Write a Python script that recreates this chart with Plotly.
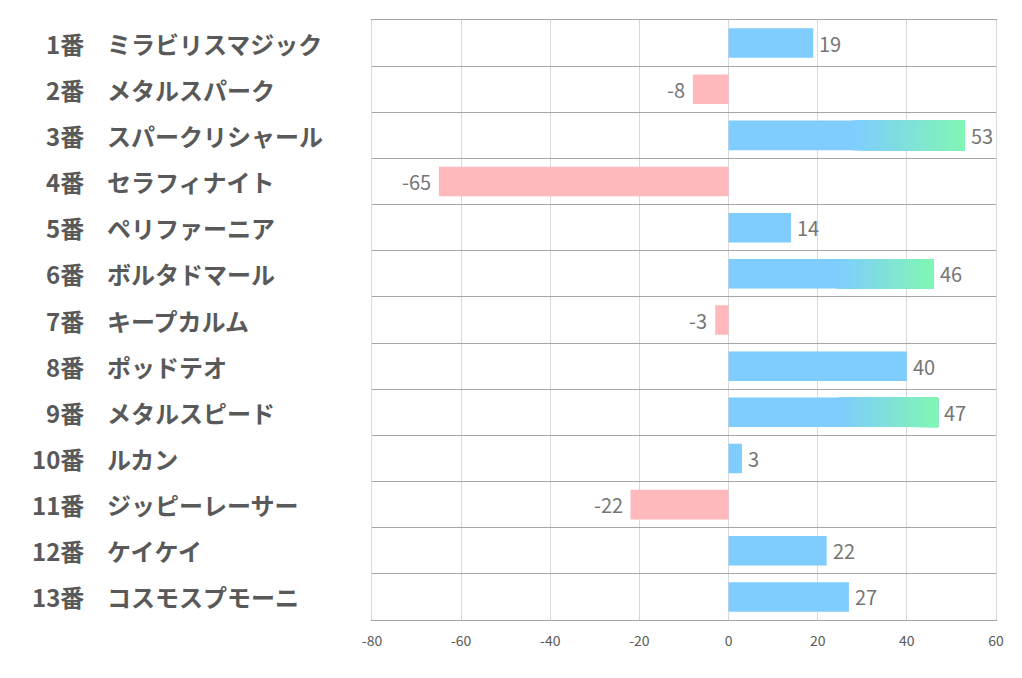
import plotly.graph_objects as go

numbers = ["1番", "2番", "3番", "4番", "5番", "6番", "7番", "8番", "9番", "10番", "11番", "12番", "13番"]
names = ["ミラビリスマジック", "メタルスパーク", "スパークリシャール", "セラフィナイト", "ペリファーニア",
         "ボルタドマール", "キープカルム", "ポッドテオ", "メタルスピード", "ルカン", "ジッピーレーサー",
         "ケイケイ", "コスモスプモーニ"]
values = [19, -8, 53, -65, 14, 46, -3, 40, 47, 3, -22, 22, 27]
x_ticks = [-80, -60, -40, -20, 0, 20, 40, 60]
x_tick_text = ["-80", "-60", "-40", "-20", "0", "20", "40", "60"]

BLUE = (127, 204, 255)
GREEN = (128, 246, 180)
PINK = "rgb(255,185,189)"
GRAD_THRESHOLD = 45
NSEG = 50

def rgb(c):
    return "rgb(%d,%d,%d)" % tuple(int(round(v)) for v in c)

fig = go.Figure()
idx = list(range(len(values)))

colors = [rgb(BLUE) if v >= 0 else PINK for v in values]
fig.add_trace(go.Bar(y=idx, x=values, base=[0] * len(values), orientation="h",
                     marker=dict(color=colors, line=dict(width=0)), width=0.64,
                     hoverinfo="skip", showlegend=False))

# gradient overlays: each segment runs from its start to the bar end, later ones on top
for i, v in enumerate(values):
    if v > GRAD_THRESHOLD:
        start = v * 0.52
        seg = (v - start) / NSEG
        ys, xs, bs, cs = [], [], [], []
        for k in range(NSEG):
            t = k / (NSEG - 1)
            c = tuple(BLUE[j] + (GREEN[j] - BLUE[j]) * t for j in range(3))
            b = start + k * seg
            ys.append(i)
            xs.append(v - b)
            bs.append(b)
            cs.append(rgb(c))
        fig.add_trace(go.Bar(y=ys, x=xs, base=bs, orientation="h",
                             marker=dict(color=cs, line=dict(width=0)), width=0.64,
                             hoverinfo="skip", showlegend=False))

annotations = []
for i, v in enumerate(values):
    annotations.append(dict(x=v, xref="x", y=i, yref="y", text=str(v), showarrow=False,
                            xanchor="left" if v >= 0 else "right",
                            xshift=4 if v >= 0 else -6,
                            font=dict(family="Noto Sans CJK JP", size=20, color="#767676")))
for i in idx:
    annotations.append(dict(x=0, xref="paper", y=i, yref="y", text=numbers[i], showarrow=False,
                            xanchor="right", xshift=-286,
                            font=dict(family="Noto Sans CJK JP", size=24, color="#595959", weight="bold")))
    annotations.append(dict(x=0, xref="paper", y=i, yref="y", text=names[i], showarrow=False,
                            xanchor="left", xshift=-267,
                            font=dict(family="Noto Sans CJK JP", size=24, color="#595959", weight="bold")))

fig.update_layout(
    width=1022, height=678,
    margin=dict(l=364, r=34, t=12, b=66),
    paper_bgcolor="white", plot_bgcolor="white",
    barmode="overlay",
    annotations=annotations,
    xaxis=dict(range=[-80, 60], tickvals=x_ticks, ticktext=x_tick_text,
               showgrid=True, gridcolor="#d9d9d9", gridwidth=1,
               zeroline=False, showline=True, mirror=True, linecolor="#a6a6a6", linewidth=1,
               tickfont=dict(family="Noto Sans CJK JP", size=14, color="#595959"),
               ticks="", ticklabelstandoff=8, fixedrange=True),
    yaxis=dict(range=[12.5, -0.5], tickvals=[i - 0.5 for i in range(14)], showticklabels=False,
               showgrid=True, gridcolor="#a6a6a6", gridwidth=1, zeroline=False, ticks="",
               showline=True, mirror=True, linecolor="#d9d9d9", linewidth=1, fixedrange=True),
)

fig.write_html("out.html")
